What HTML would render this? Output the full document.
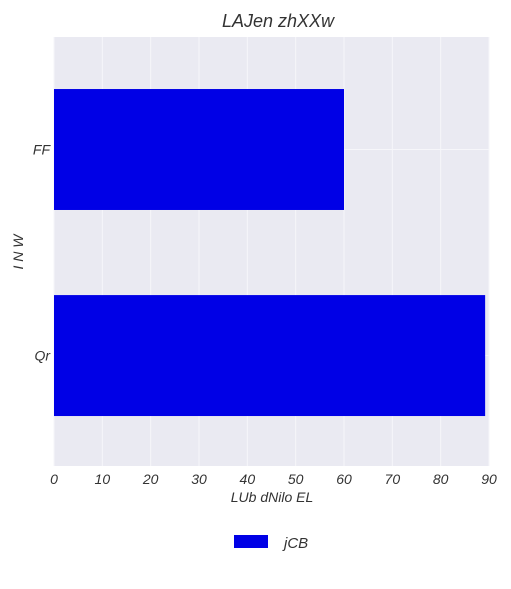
<!DOCTYPE html>
<html><head><meta charset="utf-8"><style>
body{margin:0;background:#fff;}
svg text{font-family:"Liberation Sans",sans-serif;font-style:italic;fill:#333;}
</style></head><body>
<svg width="511" height="584" xmlns="http://www.w3.org/2000/svg">
<rect x="54" y="37" width="435" height="429" fill="#eaeaf2"/>
<g id="grid"></g>
<g id="bars"></g>
<g id="xticks"></g>
<g id="yticks"></g>
<text x="278" y="27" font-size="18" text-anchor="middle">LAJen zhXXw</text>
<text x="272" y="502" font-size="14" text-anchor="middle">LUb dNilo  EL</text>
<text x="0" y="0" font-size="14" text-anchor="middle" transform="translate(23,252) rotate(-90)">I N W</text>
<rect x="234" y="535" width="34" height="13" fill="#0000e6"/>
<text x="284" y="548" font-size="15">jCB</text>
</svg>
<script>
const categories=["Qr","FF"];
const values=[89.2,60];
const xTicks=[0,10,20,30,40,50,60,70,80,90];
const NS="http://www.w3.org/2000/svg";
const x0=54,x1=489,xmax=90,yTop=37,yBot=466,ymin=-0.536,ymax=1.546;
const sx=v=>x0+(v/xmax)*(x1-x0);
const sy=i=>yBot-(i-ymin)/(ymax-ymin)*(yBot-yTop);
function mk(t,a){const e=document.createElementNS(NS,t);for(const k in a)e.setAttribute(k,a[k]);return e;}
const grid=document.getElementById('grid'),bars=document.getElementById('bars'),xt=document.getElementById('xticks'),yt=document.getElementById('yticks');
xTicks.forEach(t=>{
  const l=mk('line',{x1:sx(t),x2:sx(t),y1:yTop,y2:yBot,stroke:'#f6f6fa','stroke-width':1});
  
  
  grid.appendChild(l);
  const tx=mk('text',{x:sx(t),y:484,'font-size':14,'text-anchor':'middle'});
  tx.textContent=t;
  
  
  xt.appendChild(tx);
});
categories.forEach((c,i)=>{
  const l=mk('line',{x1:x0,x2:x1,y1:sy(i),y2:sy(i),stroke:'#f6f6fa','stroke-width':1});
  
  
  grid.appendChild(l);
  const h=(sy(0)-sy(0.587));
  const r=mk('rect',{x:x0,y:sy(i)-h/2,width:sx(values[i])-x0,height:h,fill:'#0000e6'});
  
  
  bars.appendChild(r);
  const tx=mk('text',{x:50,y:sy(i)+5,'font-size':14,'text-anchor':'end'});
  tx.textContent=c;
  
  
  yt.appendChild(tx);
});
</script>
</body></html>
